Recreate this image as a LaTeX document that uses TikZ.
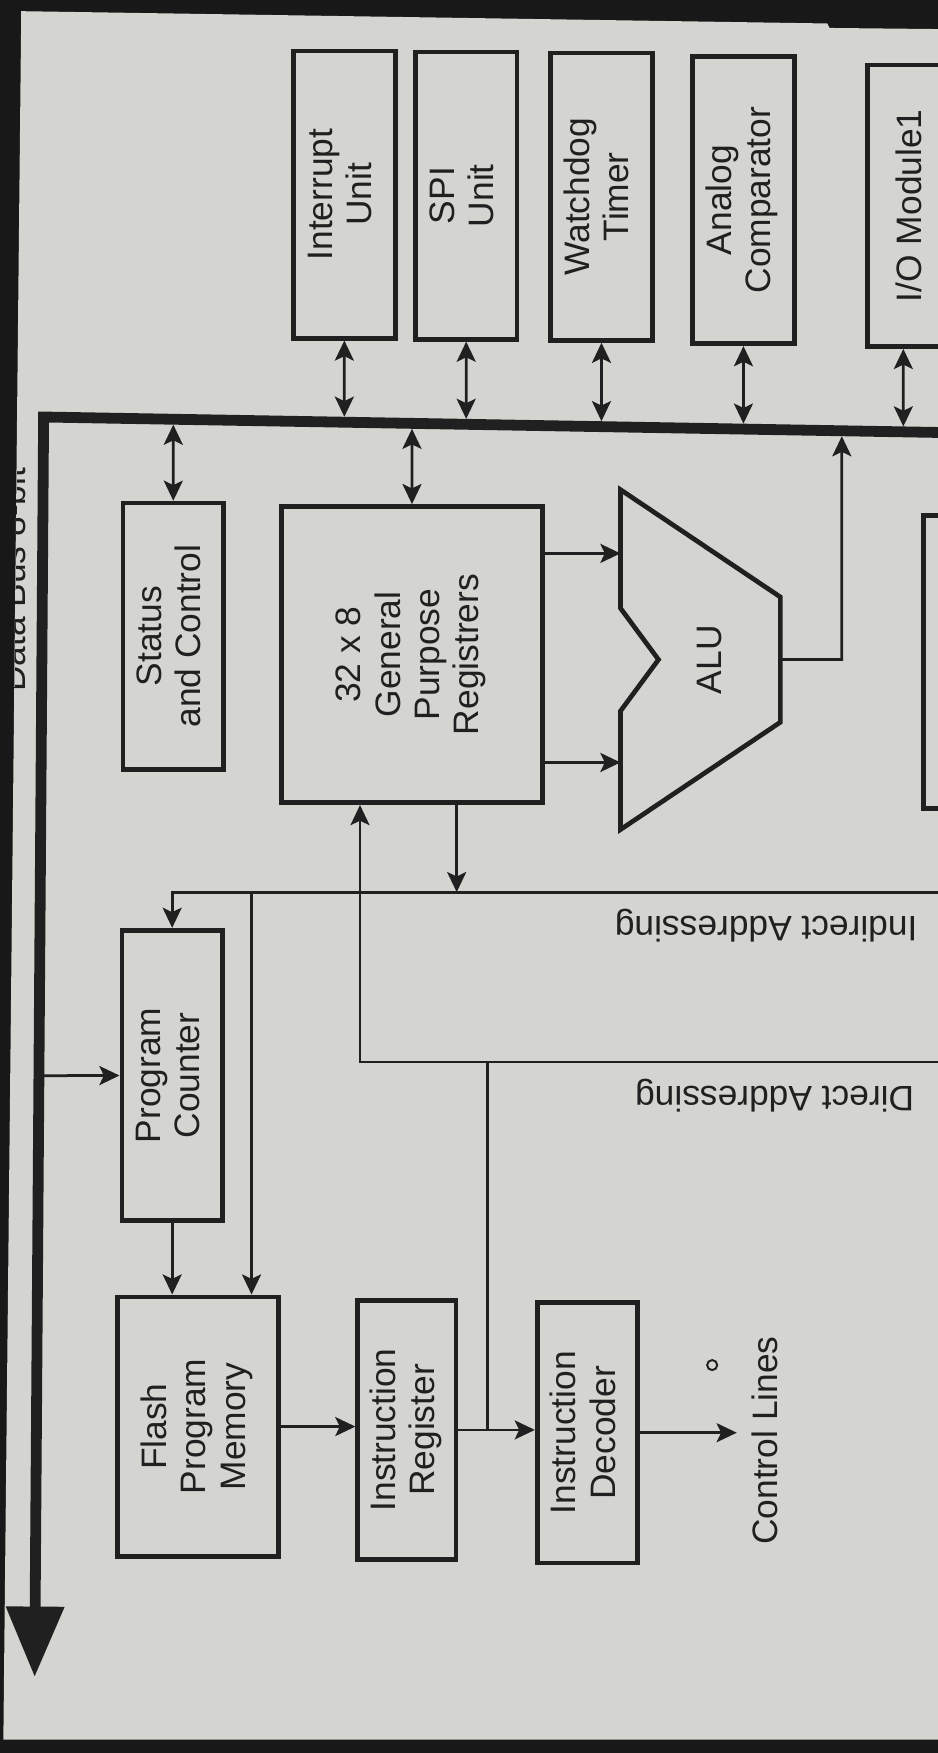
\documentclass[tikz,border=0pt]{standalone}
\usepackage{fontspec}
\setmainfont{Liberation Sans}
\usetikzlibrary{arrows.meta,calc}
\definecolor{paper}{RGB}{212,212,208}
\definecolor{edgedark}{RGB}{24,24,24}
\definecolor{ink}{RGB}{32,32,32}
\def\pageshape{(19,10) -- (740,21) -- (742,25) -- (839,26) -- (839,1556) -- (3,1556) -- cycle}
\def\alushape{(555,438) -- (698,534) -- (698,646) -- (555,742) -- (555,636) -- (589,590) -- (555,544) -- cycle}
\def\vtext#1{\rotatebox{90}{\begin{tabular}{@{}c@{}}#1\end{tabular}}}

\begin{document}
\begin{tikzpicture}[x=0.02cm,y=-0.02cm,>={Stealth[length=3.6mm,width=3.4mm,inset=0.8mm]}]
    \tikzstyle{frame}=[draw=ink, line width=2.4pt]
    \tikzstyle{box}=[frame, font=\fontsize{18}{20}\selectfont, text=ink, inner sep=0pt]
    \tikzstyle{lbl}=[font=\fontsize{18}{20}\selectfont, text=ink, inner sep=0pt]
    \tikzstyle{wire}=[draw=ink, line width=1.4pt]
    \tikzstyle{arr}=[wire, ->]
    \tikzstyle{bidir}=[arr, <->]
    \tikzstyle{bus}=[draw=ink, line width=5.5pt, -{Triangle[length=1.26cm,width=1cm]}]
    \useasboundingbox (0,0) rectangle (839,1568);
    \fill[edgedark] (0,0) rectangle (839,1568);
    \fill[paper] \pageshape;
    \begin{scope}
    \clip \pageshape;
    \node[lbl, rotate=90, anchor=base east] (buslbl) at (22.5,418) {Data Bus 8-bit};
    \coordinate (busR) at (850,387);
    \coordinate (busTL) at (39,373);
    \coordinate (busB) at (31,1500);
    \draw[bus] (busR) -- (busTL) -- (busB);
    \foreach \n/\x/\y/\t in {intr/308/174/Interrupt\\Unit, spi/417/175/SPI\\Unit,
    wdt/538/176/Watchdog\\Timer, acomp/665/179/Analog\\Comparator}
    {
        \node[box, minimum width=1.82cm, minimum height=5.14cm] (\n) at (\x,\y) {\vtext{\t}};
        \draw[bidir, shorten >=2.75pt] (\n.south) -- (intersection of busTL--busR and \n.south--\n.north);
    }
    \node[box, minimum width=1.64cm, minimum height=5.04cm] (iomod) at (817,184) {\vtext{I/O Module1}};
    \draw[bidir, shorten >=2.75pt] ([xshift=-0.18cm]iomod.south) -- (intersection of busTL--busR and 808,310--808,0);
    \node[box, minimum width=1.8cm, minimum height=4.76cm] (status) at (155,569) {\vtext{Status\\and Control}};
    \node[box, minimum width=4.66cm, minimum height=5.3cm] (gpr) at (368.5,585.5) {\vtext{32 x 8\\General\\Purpose\\Registrers}};
    \node[box, minimum width=2cm, minimum height=5.24cm] (nextblk) at (876,592) {};
    \draw[bidir, shorten <=2.75pt] (intersection of busTL--busR and status.north--status.south) -- (status.north);
    \draw[bidir, shorten <=2.75pt] (intersection of busTL--busR and gpr.north--gpr.south) -- (gpr.north);
    \draw[frame] \alushape;
    \node[lbl] (alu) at (635,590) {\rotatebox{90}{ALU}};
    \coordinate (aluA) at (555,495);
    \coordinate (aluB) at (555,682);
    \coordinate (aluO) at (698,590);
    \coordinate (aluU) at (753,590);
    \draw[arr] (gpr.east |- aluA) -- (aluA);
    \draw[arr] (gpr.east |- aluB) -- (aluB);
    \draw[arr, shorten >=2.75pt] (aluO) -- (aluU) -- (intersection of busTL--busR and aluU--753,0);
    \node[box, minimum width=1.8cm, minimum height=5.2cm] (pc) at (154,962) {\vtext{Program\\Counter}};
    \node[box, minimum width=2.88cm, minimum height=4.64cm] (flash) at (177,1276) {\vtext{Flash\\Program\\Memory}};
    \node[box, minimum width=1.76cm, minimum height=4.64cm] (ir) at (364,1279) {\vtext{Instruction\\Register}};
    \node[box, minimum width=1.8cm, minimum height=4.66cm] (idec) at (525.5,1281.5) {\vtext{Instruction\\Decoder}};
    \coordinate (indR) at (850,798);
    \coordinate (dirR) at (850,950);
    \coordinate (dj) at (436,1279);
    \coordinate (ctrl) at (659,1281.5);
    \draw[arr] (indR) -- (pc.north |- indR) -- (pc.north);
    \draw[arr] ([xshift=0.96cm]flash.north |- indR) -- ([xshift=0.96cm]flash.north);
    \draw[arr] ([xshift=0.8cm]gpr.south) -- ([xshift=0.8cm]gpr.south |- indR);
    \draw[arr] (dirR) -- ([xshift=-0.93cm]gpr.south |- dirR) -- ([xshift=-0.93cm]gpr.south);
    \draw[wire] (dj |- dirR) -- (dj);
    \draw[arr] (intersection of busTL--busB and pc.west--pc.east) -- (pc.west);
    \draw[arr] (pc.south) -- (pc.south |- flash.north);
    \draw[arr] (flash.east) -- (flash.east -| ir.west);
    \draw[arr] (ir.east) -- (ir.east -| idec.west);
    \draw[arr] (idec.east) -- (ctrl);
    \draw[draw=ink, line width=1pt] (637,1221) circle[radius=0.09cm];
    \node[lbl, rotate=90, anchor=base west] (ctrllbl) at (695,1382) {Control Lines};
    \node[lbl, rotate=180, anchor=base west] (indlbl) at (821,820) {Indirect Addressing};
    \node[lbl, rotate=180, anchor=base west] (dirlbl) at (818,972) {Direct Addressing};
    \end{scope}
\end{tikzpicture}
\end{document}
